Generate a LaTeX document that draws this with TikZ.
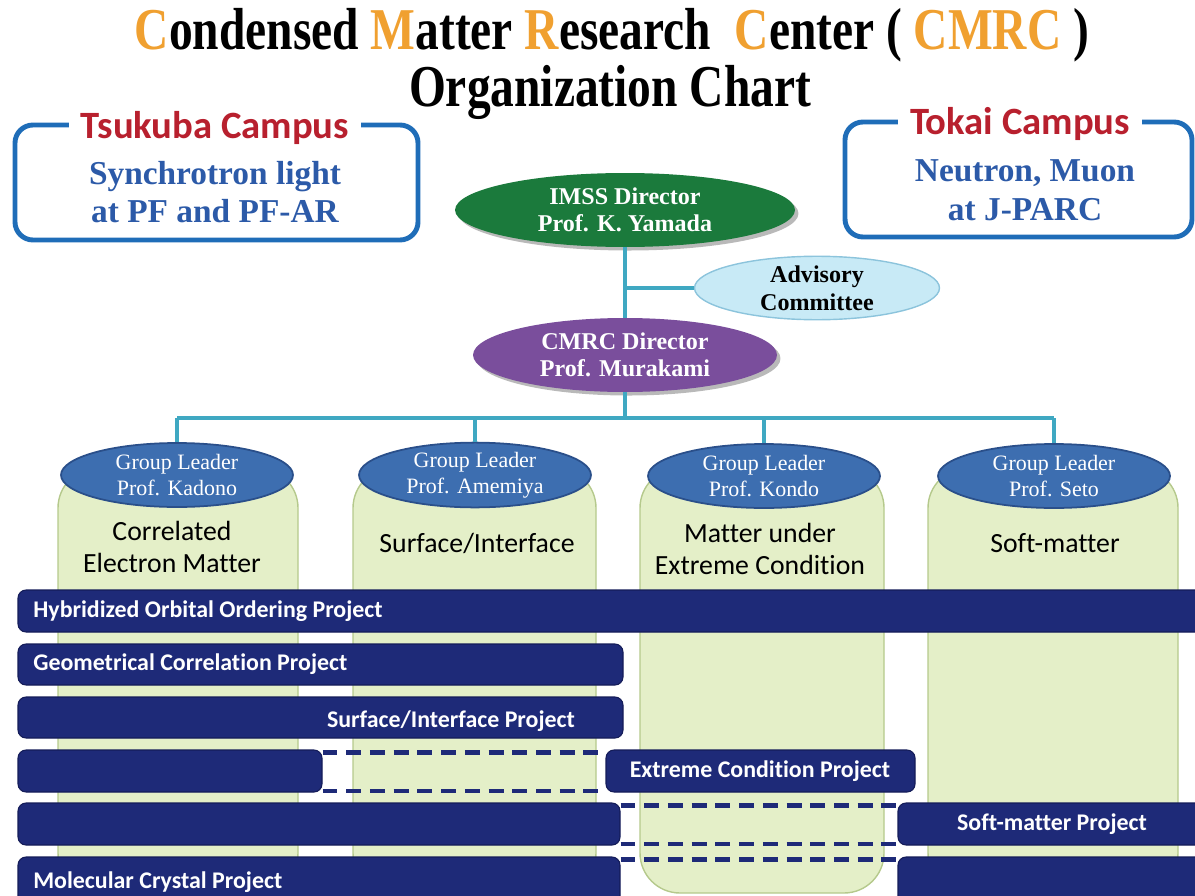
\documentclass[tikz,border=0pt]{standalone}
\usepackage{graphicx}
\usepackage{fontspec}
\setmainfont{Liberation Serif}
\newfontfamily\calib[Ligatures=NoCommon]{Carlito}
\usetikzlibrary{shapes.geometric,fit,shadows,calc}
\definecolor{ttlorange}{HTML}{F0A030}
\definecolor{campusred}{HTML}{B8202E}
\definecolor{campusblue}{HTML}{1F6DB8}
\definecolor{boxtext}{HTML}{2C5AA8}
\definecolor{imssgreen}{HTML}{1B7A3C}
\definecolor{advblue}{HTML}{C8EAF6}
\definecolor{advedge}{HTML}{8CC4DC}
\definecolor{cmrcpurple}{HTML}{7A4E9C}
\definecolor{glblue}{HTML}{3D6EB0}
\definecolor{gledge}{HTML}{2A4F8A}
\definecolor{colgreen}{HTML}{E4EFC8}
\definecolor{coledge}{HTML}{B5C98C}
\definecolor{barnavy}{HTML}{1E2A78}
\definecolor{barnavyedge}{HTML}{141C58}
\definecolor{linkteal}{HTML}{3FA8C2}
\begin{document}
\begin{tikzpicture}[x=0.02cm,y=-0.02cm,
  titlefont/.style={font=\bfseries\fontsize{27}{30}\selectfont},
  campusbox/.style={draw=campusblue,line width=2.8pt,rounded corners=0.36cm,inner sep=0},
  campuslabel/.style={fill=white,inner xsep=7pt,inner ysep=0pt,text=campusred,font=\calib\bfseries\fontsize{22}{24}\selectfont},
  campustext/.style={align=center,text=boxtext,font=\bfseries\fontsize{19}{22}\selectfont},
  boss/.style={ellipse,inner sep=0,align=center,text=white,font=\bfseries\fontsize{13.7}{15.5}\selectfont,drop shadow={shadow xshift=2pt,shadow yshift=-2pt,opacity=0.55}},
  advisory/.style={ellipse,inner sep=0,align=center,fill=advblue,draw=advedge,line width=0.8pt,font=\bfseries\fontsize{13.7}{15.9}\selectfont,minimum width=4.9cm,minimum height=1.2cm},
  leader/.style={ellipse,inner sep=0,align=center,fill=glblue,draw=gledge,line width=1pt,text=white,font=\fontsize{12.5}{14.7}\selectfont,minimum width=4.64cm,minimum height=1.28cm},
  groupcol/.style={draw=coledge,fill=colgreen,line width=0.8pt,rounded corners=0.8cm,inner sep=0},
  collabel/.style={align=center,font=\calib\fontsize{15.8}{18.7}\selectfont},
  bar/.style={fill=barnavy,draw=barnavyedge,line width=0.6pt,rounded corners=0.16cm,inner sep=0},
  bartext/.style={text=white,inner sep=0,font=\calib\bfseries\fontsize{13.6}{15}\selectfont},
  conn/.style={draw=linkteal,line width=2.8pt},
  dashlink/.style={draw=barnavy,line width=2.3pt,dash pattern=on 8.5pt off 5pt}]
\useasboundingbox (0,0) rectangle (1195,895);
\clip (0,0) rectangle (1195,895);

% title
\node[titlefont] (title1) at (612,35) {\scalebox{1}[1.25]{\textcolor{ttlorange}{C}ondensed \textcolor{ttlorange}{M}atter \textcolor{ttlorange}{R}esearch\ \ \textcolor{ttlorange}{C}enter ( \textcolor{ttlorange}{CMRC} )}};
\node[titlefont] (title2) at (610,92) {\scalebox{1}[1.25]{Organization Chart}};

% campus boxes
\node[campusbox,fit={(15,125) (418,240)}] (tsukuba) {};
\node[campuslabel] (tsukubalbl) at (215,128) {Tsukuba Campus};
\node[campustext] (tsukubatxt) at (215,192) {Synchrotron light\\at PF and PF-AR};
\node[campusbox,fit={(845,122) (1192,237)}] (tokai) {};
\node[campuslabel] (tokailbl) at (1020,124) {Tokai Campus};
\node[campustext] (tokaitxt) at (1025,190) {Neutron, Muon\\at J-PARC};

% directors
\node[boss,fill=imssgreen,minimum width=6.8cm,minimum height=1.48cm] (imss) at (625,210) {IMSS Director\\Prof. K. Yamada};
\node[advisory] (adv) at (817,288) {Advisory\\Committee};
\node[boss,fill=cmrcpurple,minimum width=6.08cm,minimum height=1.48cm] (cmrc) at (625,355) {CMRC Director\\Prof. Murakami};

% group columns
\node[groupcol,fit={(58,468) (298,893)}] (col1) {};
\node[groupcol,fit={(353,468) (596,893)}] (col2) {};
\node[groupcol,fit={(640,468) (884,893)}] (col3) {};
\node[groupcol,fit={(928,468) (1178,893)}] (col4) {};
\node[collabel] (col1lbl) at (172,547) {Correlated\\Electron Matter};
\node[collabel] (col2lbl) at (477,543) {Surface/Interface};
\node[collabel] (col3lbl) at (760,549) {Matter under\\Extreme Condition};
\node[collabel] (col4lbl) at (1055,543) {Soft-matter};

% group leaders
\node[leader] (gl1) at (177,475) {Group Leader\\Prof. Kadono};
\node[leader] (gl2) at (475,475) {Group Leader\\Prof. Amemiya};
\node[leader] (gl3) at (764,476) {Group Leader\\Prof. Kondo};
\node[leader] (gl4) at (1054,476) {Group Leader\\Prof. Seto};

% connectors
\coordinate (bus) at (625,418);
\draw[conn] (imss.south) -- (cmrc.north);
\draw[conn] (imss.south |- adv.west) -- (adv.west);
\draw[conn] (cmrc.south) -- (bus);
\draw[conn] (gl1.north |- bus) -- (gl4.north |- bus);
\foreach \i in {1,2,3,4} {\draw[conn] (gl\i.north |- bus) -- (gl\i.north);}

% project bars
\node[bar,fit={(18,590) (1215,632)}] (b1) {};
\node[bartext,anchor=west] (t1) at (33,611) {Hybridized Orbital Ordering Project};
\node[bar,fit={(18,644) (623,685)}] (b2) {};
\node[bartext,anchor=west] (t2) at (33,664) {Geometrical Correlation Project};
\node[bar,fit={(18,697) (623,738)}] (b3) {};
\node[bartext] (t3) at (451,721) {Surface/Interface Project};
\node[bar,fit={(18,750) (322,792)}] (b4a) {};
\node[bar,fit={(606,750) (915,792)}] (b4b) {};
\node[bartext] (t4) at (760,771) {Extreme Condition Project};
\node[bar,fit={(18,803) (620,845)}] (b5a) {};
\node[bar,fit={(898,803) (1215,845)}] (b5b) {};
\node[bartext] (t5) at (1052,824) {Soft-matter Project};
\node[bar,fit={(18,857) (620,915)}] (b6a) {};
\node[bartext,anchor=west] (t6) at (33,882) {Molecular Crystal Project};
\node[bar,fit={(898,857) (1215,915)}] (b6b) {};

% dashed links
\draw[dashlink] ($(b4a.north east)+(0,3)$) -- ($(b4b.north west)+(0,3)$);
\draw[dashlink] ($(b4a.south east)+(0,-2)$) -- ($(b4b.south west)+(0,-2)$);
\draw[dashlink] ($(b5a.north east)+(0,3)$) -- ($(b5b.north west)+(0,3)$);
\draw[dashlink] ($(b5a.south east)+(0,-2)$) -- ($(b5b.south west)+(0,-2)$);
\draw[dashlink] ($(b6a.north east)+(0,3)$) -- ($(b6b.north west)+(0,3)$);
\end{tikzpicture}
\end{document}
